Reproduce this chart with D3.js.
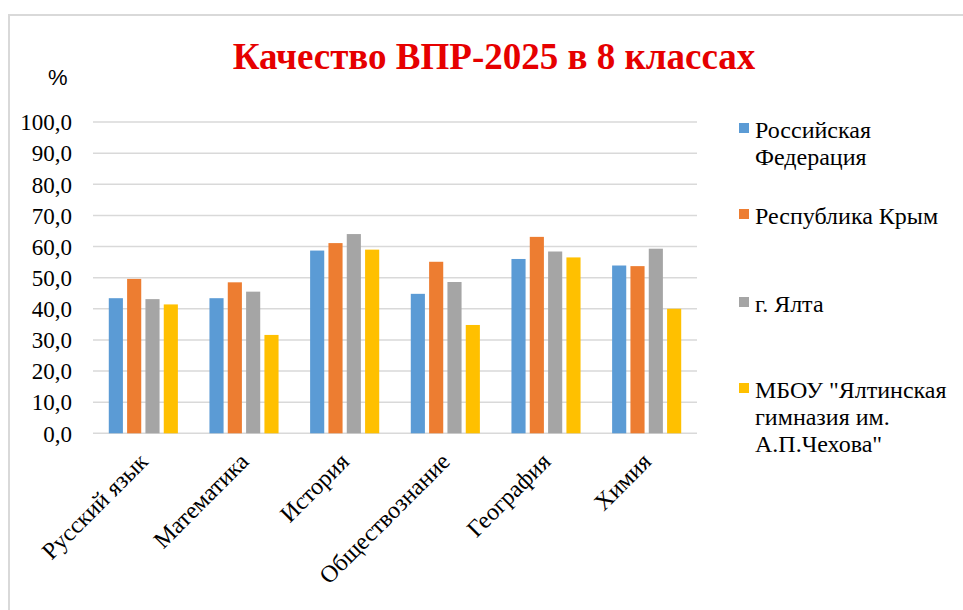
<!DOCTYPE html>
<html>
<head>
<meta charset="utf-8">
<script src="https://cdn.jsdelivr.net/npm/d3@7"></script>
</head>
<body style="margin:0">
<div id="c"></div>
<script>
// data
var categories = ["Русский язык", "Математика", "История", "Обществознание", "География", "Химия"];
var series = ["Российская Федерация", "Республика Крым", "г. Ялта", "МБОУ \"Ялтинская гимназия им. А.П.Чехова\""];
var rf     = [43.4, 43.4, 58.7, 44.8, 56.0, 53.9];
var crimea = [49.6, 48.5, 61.1, 55.1, 63.1, 53.7];
var yalta  = [43.1, 45.5, 64.0, 48.6, 58.4, 59.3];
var school = [41.4, 31.6, 59.0, 34.8, 56.5, 40.0];
var yTicks = [0, 10, 20, 30, 40, 50, 60, 70, 80, 90, 100];
var colors = ["#5B9BD5", "#ED7D31", "#A5A5A5", "#FFC000"];

var values = [rf, crimea, yalta, school];
var serif = "'Times New Roman'";

var width = 963, height = 610;
var plot = { left: 93, right: 697, top: 122, bottom: 433.3 };

var svg = d3.select("#c").append("svg")
    .attr("width", width)
    .attr("height", height)
    .style("font-family", serif);

// outer chart border
svg.append("rect")
    .attr("x", 9).attr("y", 15)
    .attr("width", 960).attr("height", 610)
    .attr("fill", "#fff")
    .attr("stroke", "#d9d9d9")
    .attr("stroke-width", 2);

var x0 = d3.scaleBand().domain(categories).range([plot.left, plot.right]);
var groupW = 73.3;
var x1 = d3.scaleBand().domain(series).range([0, groupW]);
var y = d3.scaleLinear().domain([0, 100]).range([plot.bottom, plot.top]);

// gridlines
svg.append("g").selectAll("line")
    .data(yTicks)
    .enter().append("line")
    .attr("x1", plot.left).attr("x2", plot.right)
    .attr("y1", function(d) { return y(d); })
    .attr("y2", function(d) { return y(d); })
    .attr("stroke", "#d9d9d9")
    .attr("stroke-width", 1.5);

// y axis labels
var yAxis = d3.axisLeft(y)
    .tickValues(yTicks)
    .tickSize(0)
    .tickPadding(21)
    .tickFormat(function(d) { return d3.format(".1f")(d).replace(".", ","); });
var yg = svg.append("g")
    .attr("transform", "translate(" + plot.left + ",0)")
    .call(yAxis)
    .attr("font-family", null)
    .attr("font-size", 23);
yg.select(".domain").remove();
yg.selectAll("text")
    .style("font-family", serif)
    .attr("dy", "0.34em")
    .attr("fill", "#000");

// bars
var groups = svg.append("g").selectAll("g")
    .data(categories)
    .enter().append("g")
    .attr("transform", function(d) {
        return "translate(" + (x0(d) + (x0.bandwidth() - groupW) / 2) + ",0)";
    });

groups.selectAll("rect")
    .data(function(d, i) {
        return series.map(function(s, j) { return { s: s, v: values[j][i], j: j }; });
    })
    .enter().append("rect")
    .attr("x", function(d) { return x1(d.s) + 2.1; })
    .attr("width", x1.bandwidth() - 4.2)
    .attr("y", function(d) { return y(d.v); })
    .attr("height", function(d) { return y(0) - y(d.v); })
    .attr("fill", function(d) { return colors[d.j]; });

// x axis labels, rotated
svg.selectAll("text.xl")
    .data(categories)
    .enter().append("text")
    .attr("class", "xl")
    .attr("transform", function(d) {
        return "translate(" + (x0(d) + x0.bandwidth() / 2 + 6) + ",463) rotate(-45)";
    })
    .attr("text-anchor", "end")
    .style("font-family", serif)
    .attr("font-size", 24)
    .text(function(d) { return d; });

// title
svg.append("text")
    .attr("x", 494).attr("y", 69)
    .attr("text-anchor", "middle")
    .style("font-family", serif)
    .attr("font-size", 37)
    .attr("font-weight", "bold")
    .attr("fill", "#e60000")
    .text("Качество ВПР-2025 в 8 классах");

// unit label
svg.append("text")
    .attr("x", 48).attr("y", 85)
    .style("font-family", "'Liberation Sans'")
    .attr("font-size", 22)
    .text("%");

// legend
var legendY = [138, 224, 312, 398];
var lineH = 27;
var legend = svg.append("g").selectAll("g")
    .data(series)
    .enter().append("g");

legend.append("rect")
    .attr("x", 739)
    .attr("y", function(d, i) { return legendY[i] - 15; })
    .attr("width", 10).attr("height", 10)
    .attr("fill", function(d, i) { return colors[i]; });

legend.append("text")
    .attr("x", 755)
    .attr("y", function(d, i) { return legendY[i]; })
    .style("font-family", serif)
    .attr("font-size", 24)
    .each(function(d) {
        var el = d3.select(this);
        var words = d.split(" ");
        var line = [];
        var tspan = el.append("tspan").attr("x", 755).attr("dy", 0);
        words.forEach(function(w) {
            line.push(w);
            tspan.text(line.join(" "));
            if (tspan.node().getComputedTextLength() > 205 && line.length > 1) {
                line.pop();
                tspan.text(line.join(" "));
                line = [w];
                tspan = el.append("tspan").attr("x", 755).attr("dy", lineH).text(w);
            }
        });
    });
</script>
</body>
</html>
